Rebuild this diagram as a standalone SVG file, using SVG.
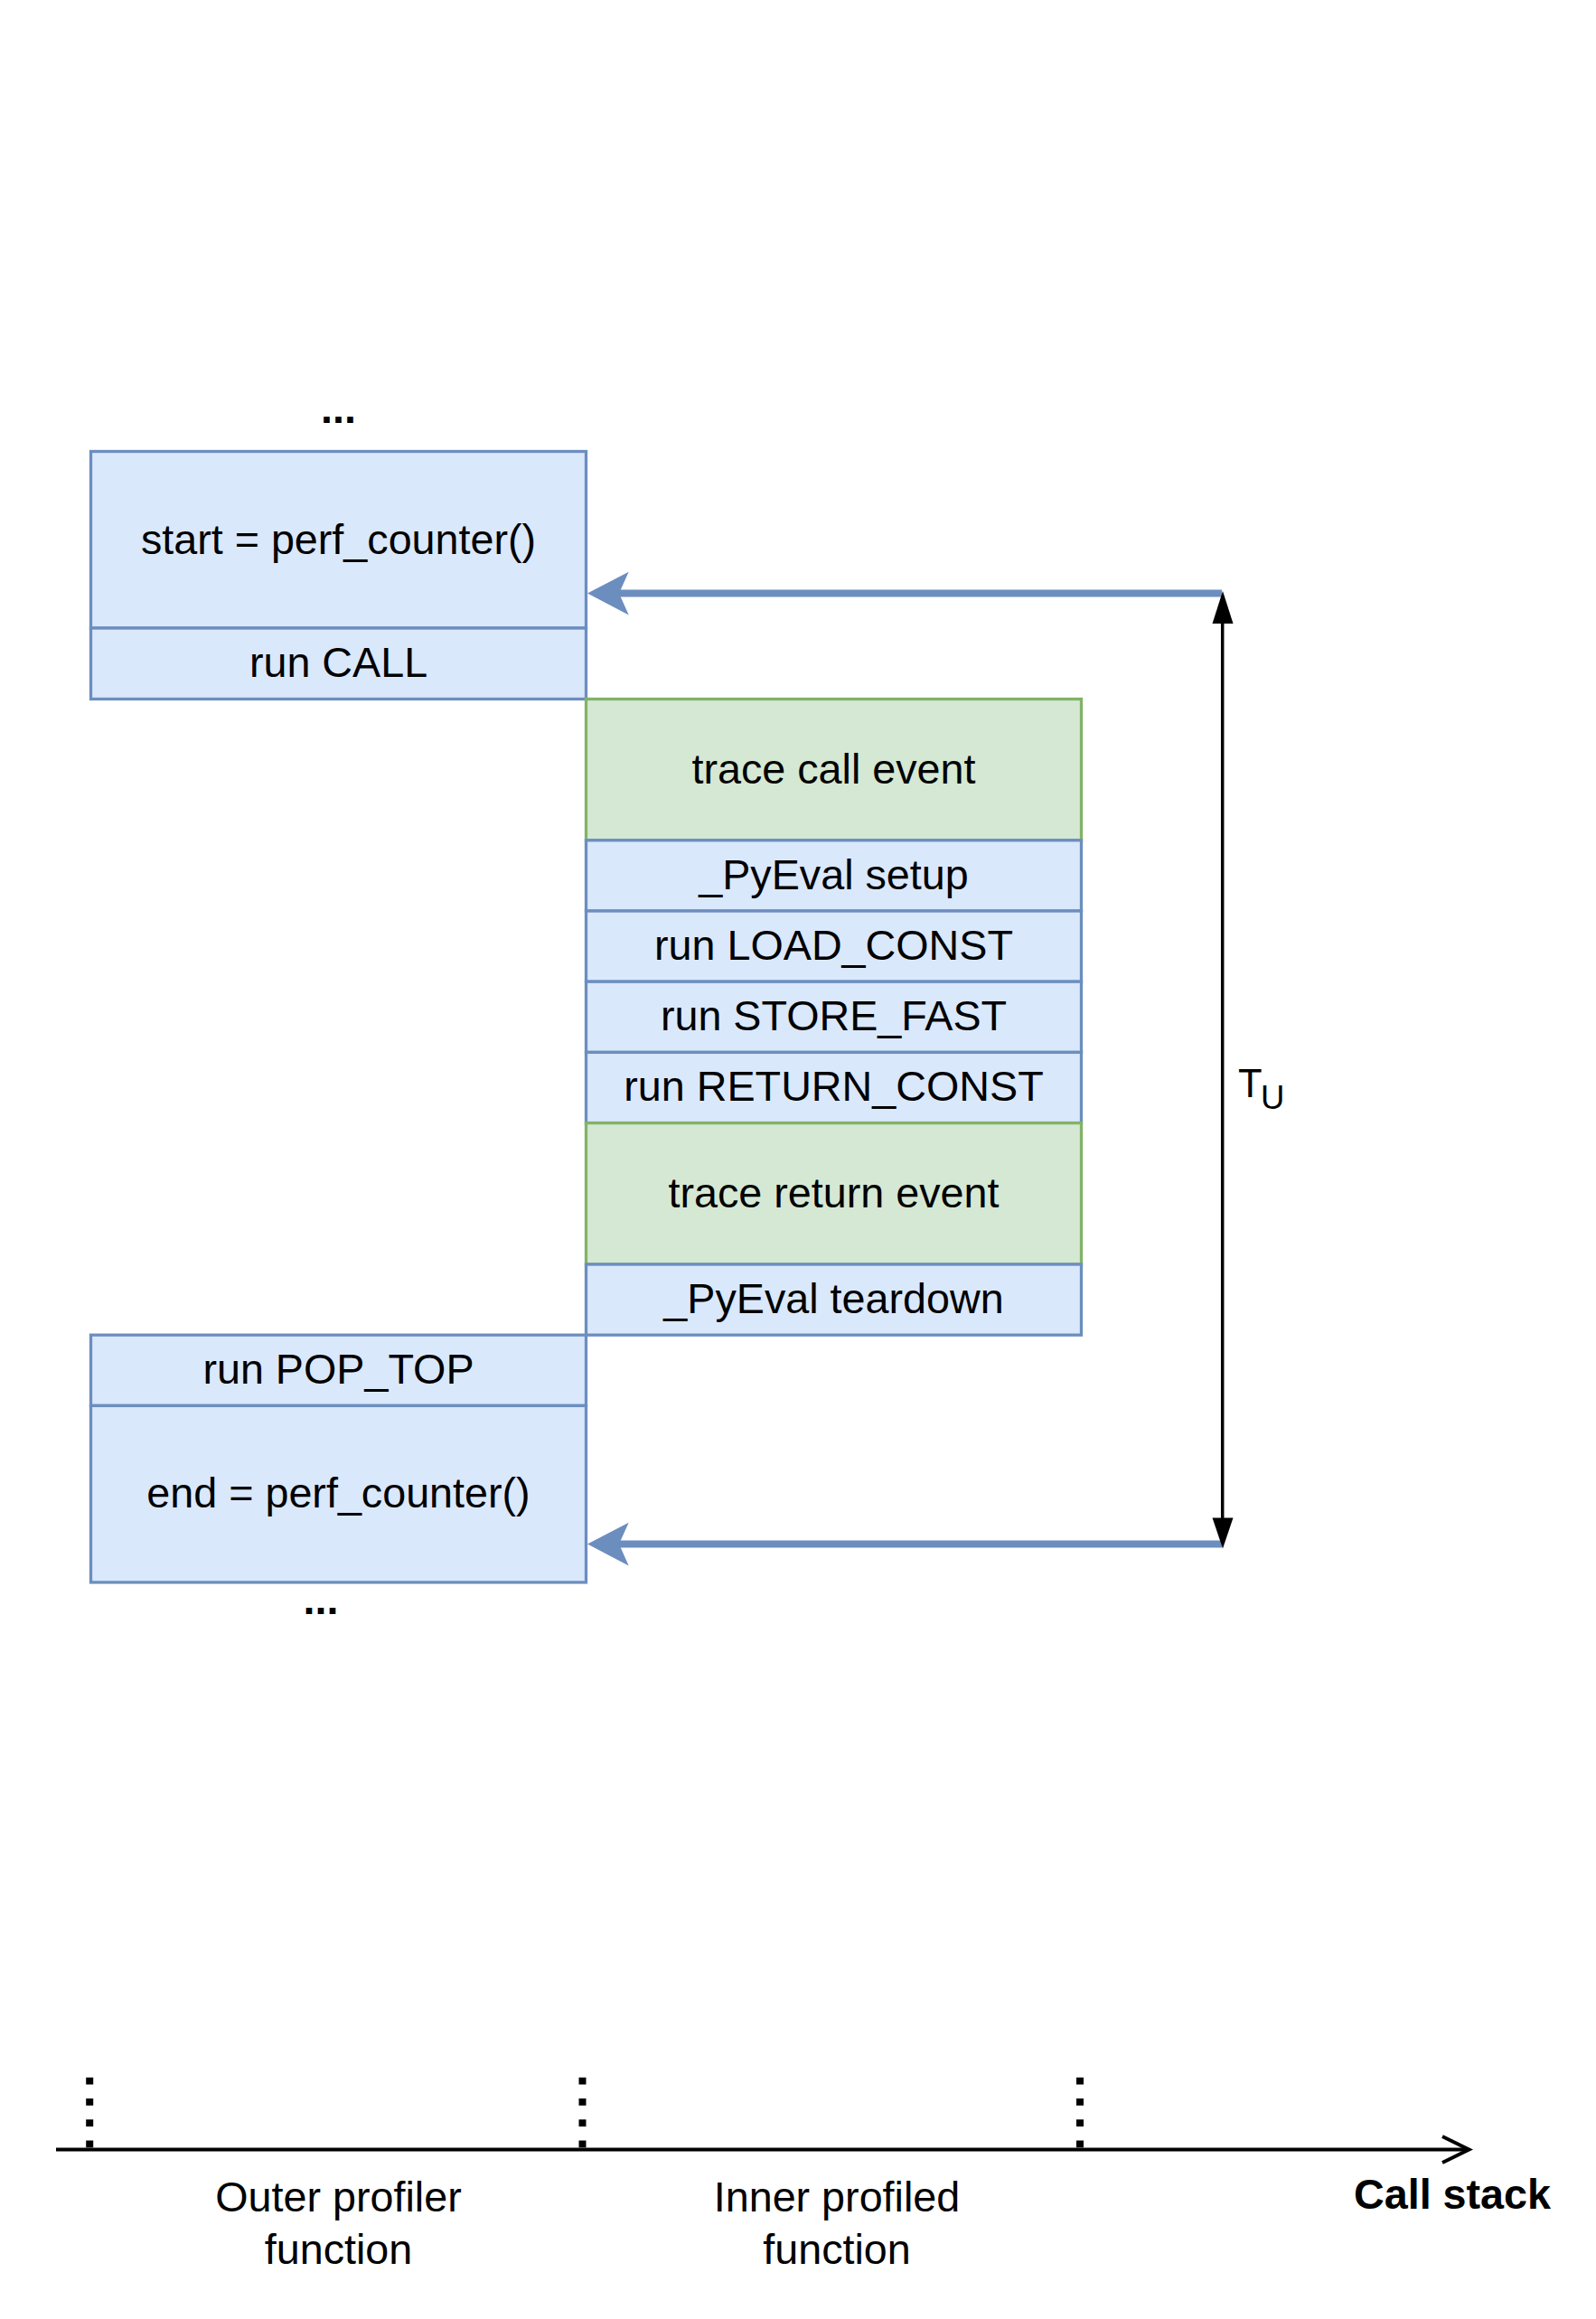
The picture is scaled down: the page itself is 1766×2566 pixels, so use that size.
<svg xmlns="http://www.w3.org/2000/svg" width="1766" height="2566" viewBox="0 0 1766 2566">
<style>
  .blue { fill: #dae8fc; stroke: #6c8ebf; stroke-width: 3.3; }
  .green { fill: #d5e8d4; stroke: #82b366; stroke-width: 3.3; }
  .lbl { font-family: "Liberation Sans", Arial, Helvetica, sans-serif; font-size: 46.7px; fill: #000; text-anchor: middle; }
  .bold { font-weight: bold; }
  .blueline { stroke: #6c8ebf; stroke-width: 8; fill: none; }
  .blackline { stroke: #000; stroke-width: 3.5; fill: none; }
  .tick { stroke: #000; stroke-width: 8; stroke-dasharray: 7.7 15.6; fill: none; }
</style>
<rect x="0" y="0" width="1766" height="2566" fill="#ffffff"/>

<g id="dots-top"><text class="lbl bold" x="374.5" y="467.7">...</text></g>

<g id="start"><rect class="blue" x="100.5" y="499.5" width="548" height="195.5"/><text class="lbl" x="374.5" y="612.5">start = perf_counter()</text></g>
<g id="run-call"><rect class="blue" x="100.5" y="695" width="548" height="78.5"/><text class="lbl" x="374.5" y="749">run CALL</text></g>

<g id="trace-call"><rect class="green" x="648.5" y="773.5" width="548" height="156.3"/><text class="lbl" x="922.5" y="866.5">trace call event</text></g>
<g id="pyeval-setup"><rect class="blue" x="648.5" y="929.8" width="548" height="78.2"/><text class="lbl" x="922.5" y="983.8">_PyEval setup</text></g>
<g id="load-const"><rect class="blue" x="648.5" y="1008" width="548" height="78.2"/><text class="lbl" x="922.5" y="1062">run LOAD_CONST</text></g>
<g id="store-fast"><rect class="blue" x="648.5" y="1086.2" width="548" height="78.2"/><text class="lbl" x="922.5" y="1140.2">run STORE_FAST</text></g>
<g id="return-const"><rect class="blue" x="648.5" y="1164.4" width="548" height="78.2"/><text class="lbl" x="922.5" y="1218.4">run RETURN_CONST</text></g>
<g id="trace-return"><rect class="green" x="648.5" y="1242.6" width="548" height="156.4"/><text class="lbl" x="922.5" y="1335.8">trace return event</text></g>
<g id="pyeval-teardown"><rect class="blue" x="648.5" y="1399" width="548" height="78.2"/><text class="lbl" x="922.5" y="1453">_PyEval teardown</text></g>

<g id="pop-top"><rect class="blue" x="100.5" y="1477.2" width="548" height="78.2"/><text class="lbl" x="374.5" y="1531.2">run POP_TOP</text></g>
<g id="end"><rect class="blue" x="100.5" y="1555.4" width="548" height="195.5"/><text class="lbl" x="374.5" y="1668.2">end = perf_counter()</text></g>

<g id="dots-bottom"><text class="lbl bold" x="355" y="1786">...</text></g>

<g id="tu-label"><text font-family="'Liberation Sans', Arial, Helvetica, sans-serif" fill="#000"><tspan x="1370" y="1214.3" font-size="43.5">T</tspan><tspan x="1395" y="1227.3" font-size="36.5">U</tspan></text></g>

<g id="connectors">
  <line class="blueline" x1="1352" y1="656.5" x2="684" y2="656.5"/>
  <polygon fill="#6c8ebf" points="650,656.5 695.7,632.7 685,656.5 695.7,680.5"/>
  <line class="blueline" x1="1352" y1="1708.5" x2="684" y2="1708.5"/>
  <polygon fill="#6c8ebf" points="650,1708.5 695.7,1684.7 685,1708.5 695.7,1732.5"/>
  <line class="blackline" x1="1352.7" y1="685" x2="1352.7" y2="1682"/>
  <polygon fill="#000" points="1353,654 1364.5,690 1341.5,690"/>
  <polygon fill="#000" points="1353,1713.5 1364.5,1679.5 1341.5,1679.5"/>
</g>

<g id="axis">
  <line x1="62" y1="2378.5" x2="1624" y2="2378.5" stroke="#000" stroke-width="4"/>
  <polyline points="1596,2364 1625.5,2378.5 1596,2393" stroke="#000" stroke-width="4" fill="none"/>
  <line class="tick" x1="99.2" y1="2298.7" x2="99.2" y2="2377"/>
  <line class="tick" x1="644.5" y1="2298.7" x2="644.5" y2="2377"/>
  <line class="tick" x1="1195" y1="2298.7" x2="1195" y2="2377"/>
</g>

<g id="outer-label"><text class="lbl"><tspan x="374.5" y="2447">Outer profiler</tspan><tspan x="374.5" y="2505">function</tspan></text></g>
<g id="inner-label"><text class="lbl"><tspan x="926" y="2447">Inner profiled</tspan><tspan x="926" y="2505">function</tspan></text></g>
<g id="call-stack-label"><text class="lbl bold" x="1607" y="2444">Call stack</text></g>
</svg>
